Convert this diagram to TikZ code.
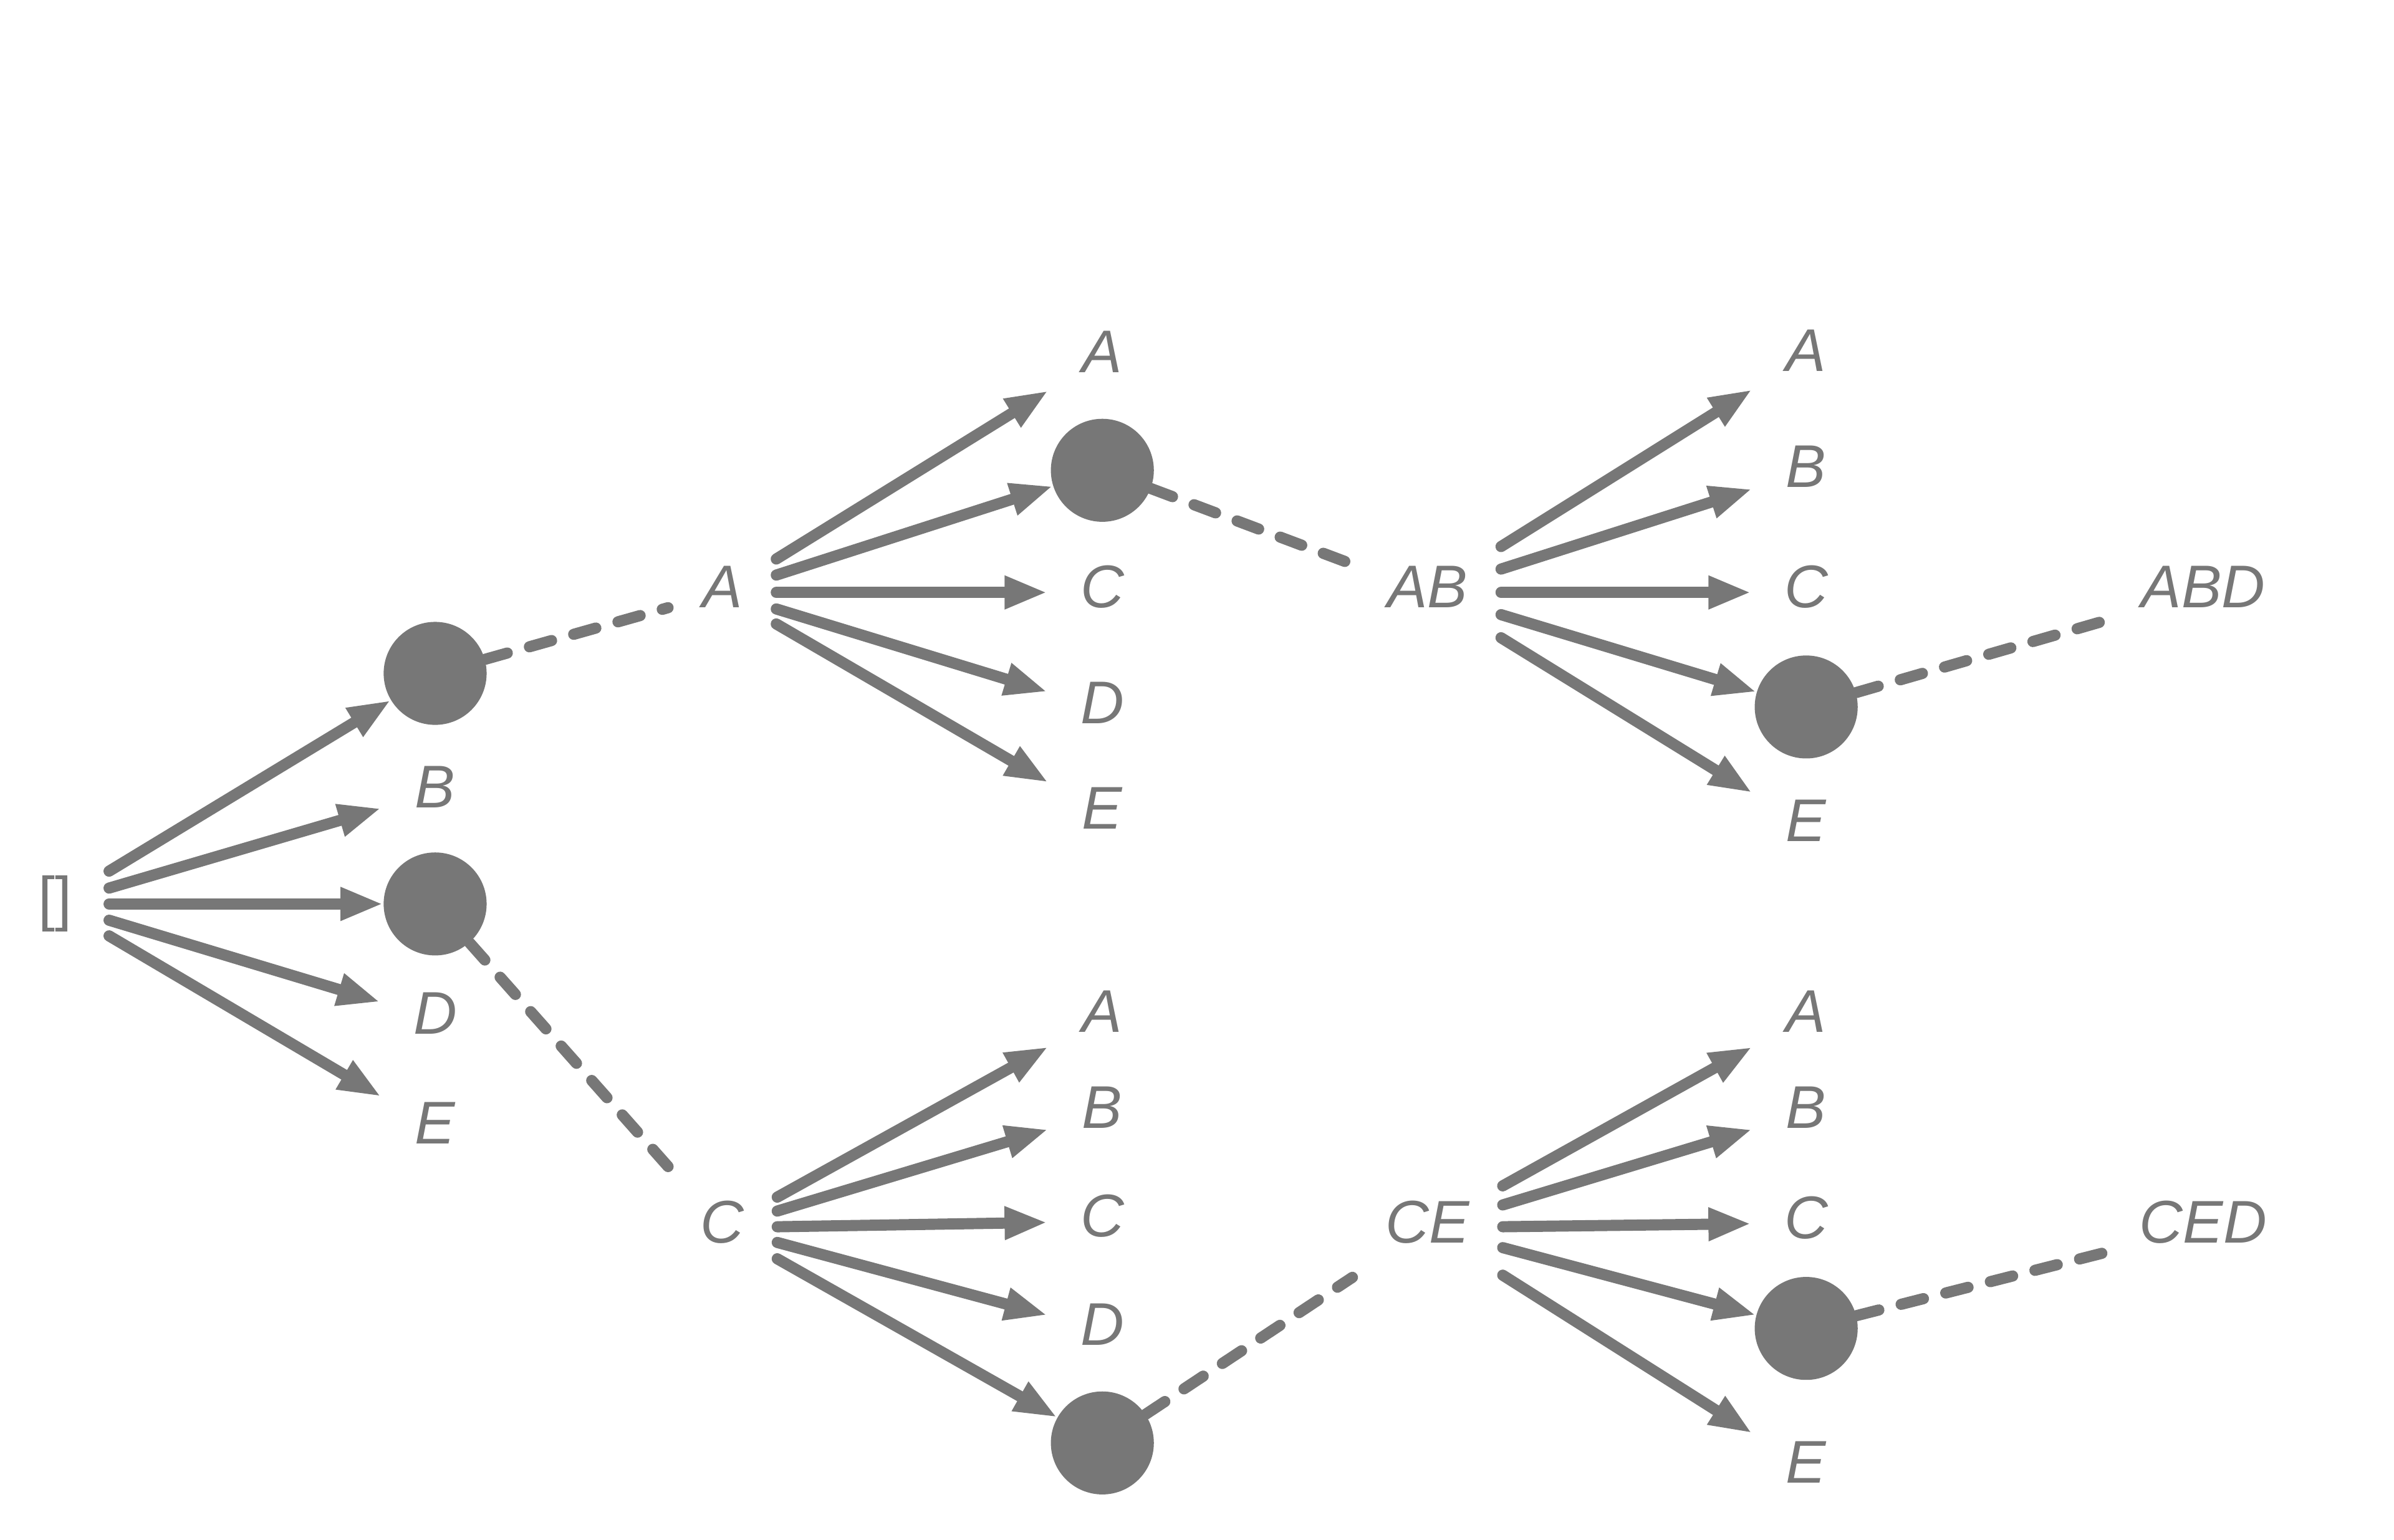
\documentclass[tikz,border=0pt]{standalone}
\usepackage{fontspec}
\setmainfont{Liberation Sans}
\usetikzlibrary{arrows.meta}

\definecolor{treegray}{RGB}{119,119,119}

\tikzset{
	label node/.style={rectangle, inner xsep=15pt, minimum width=49pt, minimum height=49pt, text height=20pt, text depth=6pt, text=treegray, font=\itshape\fontsize{27.5}{33}\selectfont},
	picked/.style={circle, fill=treegray, minimum size=47pt, inner sep=0pt},
	move/.style={draw=treegray, line width=5.1pt, line cap=round, -{Triangle[length=19.5pt,width=14pt]}},
	skip/.style={draw=treegray, line width=5.1pt, line cap=round, dash pattern=on 10.5pt off 10.5pt}
}

\begin{document}
\begin{tikzpicture}[x=0.2449mm, y=-0.2449mm]
	\useasboundingbox (0,0) rectangle (1568,1008.2);

	% first level
	\node[label node] (root) at (36,592) {\upshape []};
	\node[picked] (r-A) at (285,441) {};
	\node[label node] (r-B) at (285,519) {B};
	\node[picked] (r-C) at (285,592) {};
	\node[label node] (r-D) at (285,667) {D};
	\node[label node] (r-E) at (285,739) {E};

	\draw[move] (root) -- (r-A);
	\draw[move] (root) -- (r-B);
	\draw[move] (root) -- (r-C);
	\draw[move] (root) -- (r-D);
	\draw[move] (root) -- (r-E);

	% upper branch
	\node[label node] (sA) at (473,388) {A};
	\node[label node] (sA-A) at (722,234) {A};
	\node[picked] (sA-B) at (722,308) {};
	\node[label node] (sA-C) at (722,388) {C};
	\node[label node] (sA-D) at (722,464) {D};
	\node[label node] (sA-E) at (722,533) {E};

	\draw[skip] (r-A) -- (sA);
	\draw[move] (sA) -- (sA-A);
	\draw[move] (sA) -- (sA-B);
	\draw[move] (sA) -- (sA-C);
	\draw[move] (sA) -- (sA-D);
	\draw[move] (sA) -- (sA-E);

	\node[label node] (sAB) at (935,388) {AB};
	\node[label node] (sAB-A) at (1183,233) {A};
	\node[label node] (sAB-B) at (1183,309) {B};
	\node[label node] (sAB-C) at (1183,388) {C};
	\node[picked] (sAB-D) at (1183,463) {};
	\node[label node] (sAB-E) at (1183,541) {E};
	\node[label node] (sABD) at (1443,388) {ABD};

	\draw[skip] (sA-B) -- (sAB);
	\draw[move] (sAB) -- (sAB-A);
	\draw[move] (sAB) -- (sAB-B);
	\draw[move] (sAB) -- (sAB-C);
	\draw[move] (sAB) -- (sAB-D);
	\draw[move] (sAB) -- (sAB-E);
	\draw[skip] (sAB-D) -- (sABD);

	% lower branch
	\node[label node] (sC) at (473,804) {C};
	\node[label node] (sC-A) at (722,666) {A};
	\node[label node] (sC-B) at (722,729) {B};
	\node[label node] (sC-C) at (722,800) {C};
	\node[label node] (sC-D) at (722,871) {D};
	\node[picked] (sC-E) at (722,945) {};

	\draw[skip] (r-C) -- (sC);
	\draw[move] (sC) -- (sC-A);
	\draw[move] (sC) -- (sC-B);
	\draw[move] (sC) -- (sC-C);
	\draw[move] (sC) -- (sC-D);
	\draw[move] (sC) -- (sC-E);

	\node[label node] (sCE) at (935,804) {CE};
	\node[label node] (sCE-A) at (1183,666) {A};
	\node[label node] (sCE-B) at (1183,729) {B};
	\node[label node] (sCE-C) at (1183,801) {C};
	\node[picked] (sCE-D) at (1183,870) {};
	\node[label node] (sCE-E) at (1183,961) {E};
	\node[label node] (sCED) at (1443,804) {CED};

	\draw[skip] (sC-E) -- (sCE);
	\draw[move] (sCE) -- (sCE-A);
	\draw[move] (sCE) -- (sCE-B);
	\draw[move] (sCE) -- (sCE-C);
	\draw[move] (sCE) -- (sCE-D);
	\draw[move] (sCE) -- (sCE-E);
	\draw[skip] (sCE-D) -- (sCED);
\end{tikzpicture}
\end{document}
